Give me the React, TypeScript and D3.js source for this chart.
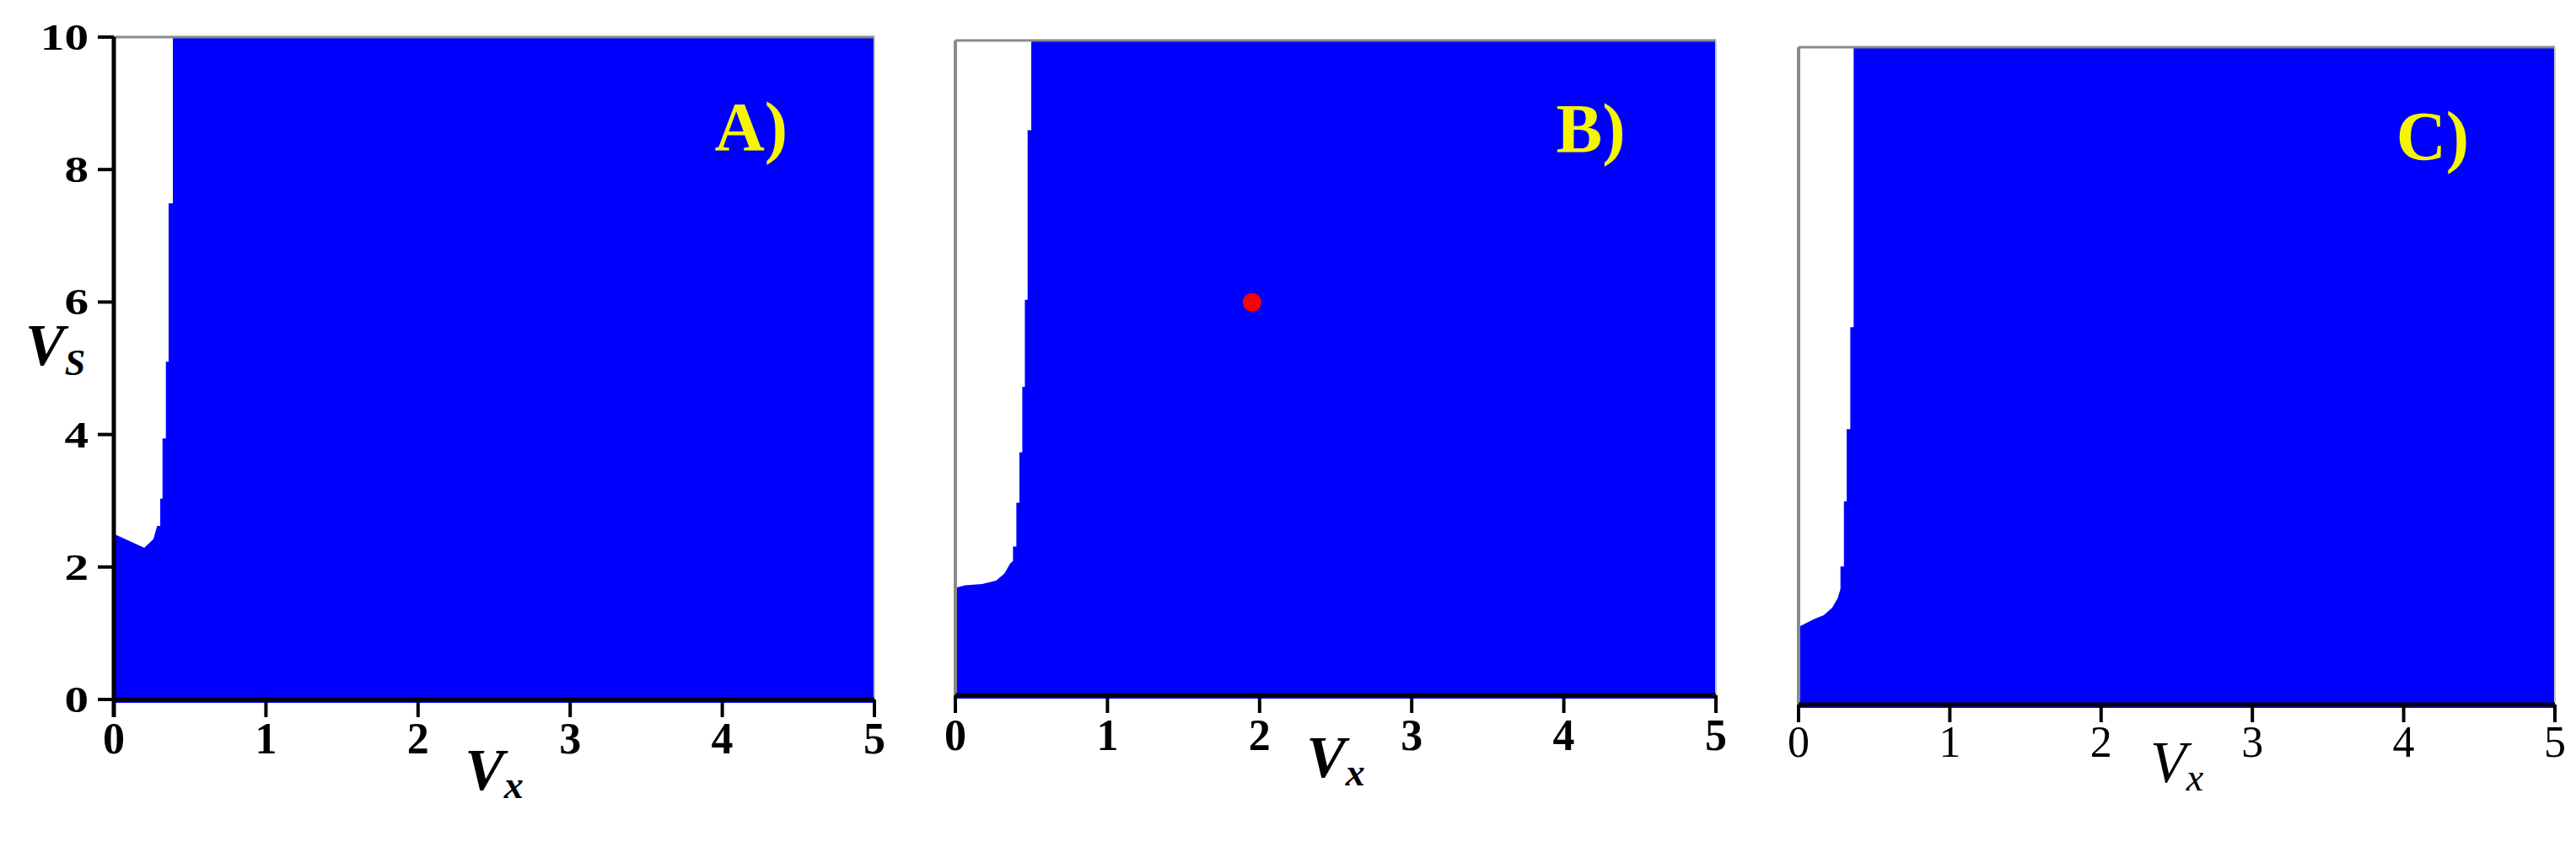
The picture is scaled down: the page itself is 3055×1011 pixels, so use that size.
import React from "react";
import * as d3 from "d3";

// axes
const xTicks = [0, 1, 2, 3, 4, 5];
const yTicks = [0, 2, 4, 6, 8, 10];
const xDomain = [0, 5];
const yDomain = [0, 10];

// edge of the white (non-blue) region, [Vx, Vs], from the top edge down to Vx = 0
const boundaryA = [
  [0.388, 10], [0.388, 7.49], [0.36, 7.49], [0.36, 5.1], [0.342, 5.1], [0.342, 3.94],
  [0.32, 3.94], [0.32, 3.03], [0.305, 3.03], [0.305, 2.62], [0.285, 2.62], [0.26, 2.42],
  [0.2, 2.29], [0, 2.5],
];
const boundaryB = [
  [0.499, 10], [0.499, 8.63], [0.475, 8.63], [0.475, 6.04], [0.457, 6.04], [0.457, 4.71],
  [0.44, 4.71], [0.44, 3.71], [0.421, 3.71], [0.421, 2.94], [0.401, 2.94], [0.401, 2.27],
  [0.379, 2.27], [0.379, 2.05], [0.36, 2.01], [0.323, 1.86], [0.268, 1.75], [0.176, 1.7],
  [0.065, 1.68], [0, 1.64],
];
const boundaryC = [
  [0.364, 10], [0.364, 5.74], [0.342, 5.74], [0.342, 4.19], [0.318, 4.19], [0.318, 3.09],
  [0.3, 3.09], [0.3, 2.1], [0.277, 2.1], [0.277, 1.76], [0.259, 1.62], [0.222, 1.47],
  [0.166, 1.36], [0.092, 1.29], [0, 1.18],
];
const boundaries = [boundaryA, boundaryB, boundaryC];
const panelLabels = ["A)", "B)", "C)"];
const markerB = [[1.95, 6.0]];
const markers = [[], markerB, []];

const W = 3055;
const H = 1011;
const SERIF = "'Liberation Serif', 'Times New Roman', serif";

const layout = [
  { left: 135, right: 1037, top: 44, bottom: 830, yAxis: true, tickLabelY: 894, vxY: 937, bold: true },
  { left: 1133, right: 2035, top: 48, bottom: 825, yAxis: false, tickLabelY: 890, vxY: 922, bold: true },
  { left: 2133, right: 3030, top: 56, bottom: 836, yAxis: false, tickLabelY: 898, vxY: 928, bold: false },
];

const Panel = ({ i }: { i: number }) => {
  const L = layout[i];
  const x = d3.scaleLinear().domain(xDomain).range([L.left, L.right]);
  const y = d3.scaleLinear().domain(yDomain).range([L.bottom, L.top]);
  const pts = boundaries[i];
  const poly = [...pts, [0, 10]];
  const line = d3.line<number[]>().x(d => x(d[0])).y(d => y(d[1]));
  const weight = L.bold ? "bold" : "normal";

  return (
    <g>
      <rect x={L.left} y={L.top} width={L.right - L.left} height={L.bottom - L.top + 4} fill="#0000ff" />
      <path d={line(poly) + "Z"} fill="#ffffff" />
      {markers[i].map((m, k) => (
        <circle key={k} cx={x(m[0])} cy={y(m[1])} r={11} fill="#ff0000" />
      ))}
      {/* frame */}
      <line x1={L.left} x2={L.right} y1={L.top} y2={L.top} stroke="#8a8a8a" strokeWidth={3} />
      <line x1={L.right} x2={L.right} y1={L.top} y2={L.bottom} stroke="#c8c8c8" strokeWidth={2} />
      {!L.yAxis && (
        <line x1={L.left} x2={L.left} y1={L.top} y2={L.bottom} stroke="#8a8a8a" strokeWidth={4} />
      )}
      {/* x axis */}
      <line x1={L.left} x2={L.right} y1={L.bottom} y2={L.bottom} stroke="#000" strokeWidth={5} />
      {xTicks.map(t => (
        <g key={t}>
          <line x1={x(t)} x2={x(t)} y1={L.bottom} y2={L.bottom + 21} stroke="#000" strokeWidth={4} />
          <text
            x={x(t)}
            y={L.tickLabelY}
            textAnchor="middle"
            fontFamily={SERIF}
            fontWeight={weight}
            fontSize={52}
          >
            {t}
          </text>
        </g>
      ))}
      <text
        x={x(2.5)}
        y={L.vxY}
        textAnchor="middle"
        fontFamily={SERIF}
        fontStyle="italic"
        fontWeight={weight}
        fontSize={70}
      >
        V<tspan fontSize={46} dy={10}>x</tspan>
      </text>
      {/* y axis */}
      {L.yAxis && (
        <g>
          <line x1={L.left} x2={L.left} y1={L.top} y2={L.bottom + 21} stroke="#000" strokeWidth={5} />
          {yTicks.map(t => (
            <g key={t}>
              <line x1={L.left - 19} x2={L.left} y1={y(t)} y2={y(t)} stroke="#000" strokeWidth={4} />
              <text
                transform={`translate(${L.left - 30},${y(t) + 15}) scale(1.3,1)`}
                textAnchor="end"
                fontFamily={SERIF}
                fontWeight="bold"
                fontSize={44}
              >
                {t}
              </text>
            </g>
          ))}
          <text
            x={30}
            y={y(5.05)}
            fontFamily={SERIF}
            fontStyle="italic"
            fontWeight="bold"
            fontSize={70}
          >
            V<tspan fontSize={44} dy={12}>S</tspan>
          </text>
        </g>
      )}
      <text
        x={x(3.95)}
        y={y(8.3)}
        fontFamily={SERIF}
        fontWeight="bold"
        fontSize={82}
        fill="#f5f500"
      >
        {panelLabels[i]}
      </text>
    </g>
  );
};

export default function App() {
  return (
    <div style={{ position: "fixed", left: 0, top: 0, background: "#fff" }}>
      <svg width={W} height={H} viewBox={`0 0 ${W} ${H}`} style={{ display: "block" }}>
        <rect width={W} height={H} fill="#ffffff" />
        {layout.map((_, i) => (
          <Panel key={i} i={i} />
        ))}
      </svg>
    </div>
  );
}
